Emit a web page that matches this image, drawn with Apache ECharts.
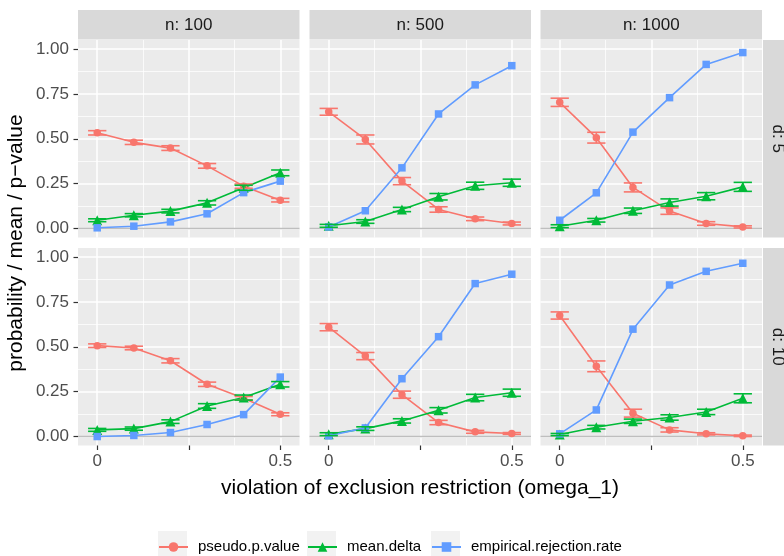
<!DOCTYPE html>
<html><head><meta charset="utf-8">
<script src="https://cdn.jsdelivr.net/npm/echarts@6/dist/echarts.min.js"></script>
<style>html,body{margin:0;padding:0;background:#fff}#c{width:784px;height:556px}</style>
</head><body><div id="c"></div>
<script>
// ---- data ----
const omega = [0, 0.1, 0.2, 0.3, 0.4, 0.5];
const nLabels = ['n: 100', 'n: 500', 'n: 1000'];
const dLabels = ['d: 5', 'd: 10'];
const seriesNames = ['pseudo.p.value', 'mean.delta', 'empirical.rejection.rate'];
const xTickValues = [0, 0.25, 0.5];
const xLabelValues = [0, 0.5];
const xMinorValues = [0.125, 0.375];
const yTickValues = [0, 0.25, 0.5, 0.75, 1];
const yMinorValues = [0.125, 0.375, 0.625, 0.875];
const xTitle = 'violation of exclusion restriction (omega_1)';
const yTitle = 'probability / mean / p\u2212value';

// d: 5
const pval_d5_n100  = [0.533, 0.480, 0.448, 0.349, 0.236, 0.158];
const delta_d5_n100 = [0.046, 0.074, 0.097, 0.143, 0.227, 0.310];
const rej_d5_n100   = [0.004, 0.013, 0.037, 0.082, 0.200, 0.264];
const pvalErr_d5_n100  = [0.012, 0.012, 0.013, 0.013, 0.012, 0.010];
const deltaErr_d5_n100 = [0.008, 0.009, 0.010, 0.012, 0.014, 0.016];

const pval_d5_n500  = [0.650, 0.496, 0.264, 0.106, 0.054, 0.028];
const delta_d5_n500 = [0.015, 0.039, 0.106, 0.177, 0.238, 0.255];
const rej_d5_n500   = [0.009, 0.099, 0.338, 0.638, 0.800, 0.907];
const pvalErr_d5_n500  = [0.019, 0.025, 0.020, 0.015, 0.010, 0.008];
const deltaErr_d5_n500 = [0.008, 0.010, 0.012, 0.018, 0.020, 0.020];

const pval_d5_n1000  = [0.703, 0.506, 0.229, 0.097, 0.028, 0.009];
const delta_d5_n1000 = [0.013, 0.046, 0.099, 0.145, 0.180, 0.232];
const rej_d5_n1000   = [0.046, 0.199, 0.537, 0.729, 0.914, 0.980];
const pvalErr_d5_n1000  = [0.023, 0.030, 0.025, 0.018, 0.010, 0.006];
const deltaErr_d5_n1000 = [0.008, 0.010, 0.015, 0.020, 0.020, 0.025];

// d: 10
const pval_d10_n100  = [0.506, 0.493, 0.422, 0.291, 0.213, 0.124];
const delta_d10_n100 = [0.037, 0.044, 0.083, 0.170, 0.217, 0.291];
const rej_d10_n100   = [0.000, 0.006, 0.022, 0.067, 0.122, 0.331];
const pvalErr_d10_n100  = [0.010, 0.010, 0.012, 0.012, 0.010, 0.008];
const deltaErr_d10_n100 = [0.008, 0.009, 0.010, 0.013, 0.014, 0.015];

const pval_d10_n500  = [0.609, 0.448, 0.233, 0.078, 0.026, 0.017];
const delta_d10_n500 = [0.013, 0.044, 0.087, 0.146, 0.217, 0.244];
const rej_d10_n500   = [0.004, 0.048, 0.322, 0.556, 0.852, 0.904];
const pvalErr_d10_n500  = [0.020, 0.020, 0.020, 0.012, 0.008, 0.005];
const deltaErr_d10_n500 = [0.008, 0.010, 0.012, 0.015, 0.018, 0.020];

const pval_d10_n1000  = [0.674, 0.391, 0.130, 0.037, 0.015, 0.004];
const delta_d10_n1000 = [0.011, 0.052, 0.085, 0.106, 0.137, 0.213];
const rej_d10_n1000   = [0.015, 0.148, 0.598, 0.844, 0.920, 0.965];
const pvalErr_d10_n1000  = [0.020, 0.030, 0.022, 0.012, 0.006, 0.004];
const deltaErr_d10_n1000 = [0.006, 0.010, 0.012, 0.015, 0.015, 0.025];

const panels = [
  {row:0, col:0, vals:[pval_d5_n100,  delta_d5_n100,  rej_d5_n100],  errs:[pvalErr_d5_n100,  deltaErr_d5_n100]},
  {row:0, col:1, vals:[pval_d5_n500,  delta_d5_n500,  rej_d5_n500],  errs:[pvalErr_d5_n500,  deltaErr_d5_n500]},
  {row:0, col:2, vals:[pval_d5_n1000, delta_d5_n1000, rej_d5_n1000], errs:[pvalErr_d5_n1000, deltaErr_d5_n1000]},
  {row:1, col:0, vals:[pval_d10_n100,  delta_d10_n100,  rej_d10_n100],  errs:[pvalErr_d10_n100,  deltaErr_d10_n100]},
  {row:1, col:1, vals:[pval_d10_n500,  delta_d10_n500,  rej_d10_n500],  errs:[pvalErr_d10_n500,  deltaErr_d10_n500]},
  {row:1, col:2, vals:[pval_d10_n1000, delta_d10_n1000, rej_d10_n1000], errs:[pvalErr_d10_n1000, deltaErr_d10_n1000]}
];

// ---- style / layout ----
const FONT = '"Liberation Sans", Arial, sans-serif';
const colors = ['#F8766D', '#00BA38', '#619CFF'];
const symbols = ['circle', 'triangle', 'rect'];
const symbolSizes = [7.5, 10, 7.5];
const colLeft = [78, 309.5, 540.5], rowTop = [40, 248], PW = 221.5, PH = 197.5;
const XMIN = -0.0525, XMAX = 0.5525, YMIN = -0.05, YMAX = 1.05;
const CAP = 0.025;

const grid = [], xAxis = [], yAxis = [], series = [], graphic = [];

panels.forEach((p, i) => {
  const showX = p.row === 1, showY = p.col === 0;
  grid.push({left: colLeft[p.col], top: rowTop[p.row], width: PW, height: PH,
    show: true, backgroundColor: '#EBEBEB', borderWidth: 0});
  xAxis.push({type: 'value', gridIndex: i, min: XMIN, max: XMAX, position: 'bottom',
    axisLine: {show: false, onZero: false},
    axisTick: {show: showX, customValues: xTickValues, length: 4.5, lineStyle: {color: '#333333', width: 1.2}},
    axisLabel: {show: showX, customValues: xLabelValues, margin: 7, color: '#4D4D4D', fontSize: 17, fontFamily: FONT,
      formatter: v => String(v)},
    splitLine: {show: true, lineStyle: {color: '#FFFFFF', width: 1.5}}});
  xAxis.push({type: 'value', gridIndex: i, min: XMIN, max: XMAX, position: 'bottom',
    axisLine: {show: false, onZero: false}, axisTick: {show: false, customValues: xMinorValues},
    axisLabel: {show: false}, splitLine: {show: true, lineStyle: {color: '#FFFFFF', width: 0.75}}});
  yAxis.push({type: 'value', gridIndex: i, min: YMIN, max: YMAX, position: 'left',
    axisLine: {show: false, onZero: false},
    axisTick: {show: showY, customValues: yTickValues, length: 4.5, lineStyle: {color: '#333333', width: 1.2}},
    axisLabel: {show: showY, customValues: yTickValues, margin: 9, color: '#4D4D4D', fontSize: 17, fontFamily: FONT,
      formatter: v => v.toFixed(2)},
    splitLine: {show: true, lineStyle: {color: '#FFFFFF', width: 1.5}}});
  yAxis.push({type: 'value', gridIndex: i, min: YMIN, max: YMAX, position: 'left',
    axisLine: {show: false, onZero: false}, axisTick: {show: false, customValues: yMinorValues},
    axisLabel: {show: false}, splitLine: {show: true, lineStyle: {color: '#FFFFFF', width: 0.75}}});

  const xi = 2 * i, yi = 2 * i;
  p.vals.forEach((vals, s) => {
    const ser = {type: 'line', name: seriesNames[s], xAxisIndex: xi, yAxisIndex: yi,
      data: omega.map((x, k) => [x, vals[k]]),
      symbol: symbols[s], symbolSize: symbolSizes[s],
      lineStyle: {color: colors[s], width: 1.6}, itemStyle: {color: colors[s]},
      z: 3};
    if (s === 0) {
      ser.markLine = {silent: true, symbol: 'none', label: {show: false},
        lineStyle: {color: '#BEBEBE', width: 1.4, type: 'solid'}, data: [{yAxis: 0}], z: 2};
    }
    series.push(ser);
  });
  p.errs.forEach((errs, s) => {
    const vals = p.vals[s];
    series.push({type: 'custom', name: 'err_' + s, xAxisIndex: xi, yAxisIndex: yi, z: 4,
      data: omega.map((x, k) => [x, vals[k] - errs[k], vals[k] + errs[k]]),
      renderItem: (params, api) => {
        const x = api.value(0), lo = api.value(1), hi = api.value(2);
        const a = api.coord([x, lo]), b = api.coord([x, hi]);
        const l1 = api.coord([x - CAP, lo]), r1 = api.coord([x + CAP, lo]);
        const l2 = api.coord([x - CAP, hi]), r2 = api.coord([x + CAP, hi]);
        const st = {stroke: colors[s], lineWidth: 1.6};
        return {type: 'group', children: [
          {type: 'line', shape: {x1: a[0], y1: a[1], x2: b[0], y2: b[1]}, style: st},
          {type: 'line', shape: {x1: l1[0], y1: l1[1], x2: r1[0], y2: r1[1]}, style: st},
          {type: 'line', shape: {x1: l2[0], y1: l2[1], x2: r2[0], y2: r2[1]}, style: st}
        ]};
      }});
  });
});

// strips
nLabels.forEach((t, c) => {
  graphic.push({type: 'rect', left: colLeft[c], top: 10, shape: {width: PW, height: 29.5}, style: {fill: '#D9D9D9'}, silent: true});
  graphic.push({type: 'text', x: colLeft[c] + PW / 2, y: 25, style: {text: t, align: 'center', verticalAlign: 'middle',
    fill: '#1A1A1A', font: '17px ' + FONT}, silent: true});
});
dLabels.forEach((t, r) => {
  graphic.push({type: 'rect', left: 763, top: rowTop[r], shape: {width: 30, height: PH}, style: {fill: '#D9D9D9'}, silent: true});
  graphic.push({type: 'text', x: 777.5, y: rowTop[r] + PH / 2, rotation: -Math.PI / 2,
    style: {text: t, align: 'center', verticalAlign: 'middle', fill: '#1A1A1A', font: '17px ' + FONT}, silent: true});
});
// axis titles
graphic.push({type: 'text', x: 16, y: 243, rotation: Math.PI / 2,
  style: {text: yTitle, align: 'center', verticalAlign: 'middle', fill: '#000', font: '21px ' + FONT}, silent: true});
graphic.push({type: 'text', x: 420, y: 488,
  style: {text: xTitle, align: 'center', verticalAlign: 'middle', fill: '#000', font: '21px ' + FONT}, silent: true});

// legend (three single-item legends with key backgrounds)
const legLeft = [158, 307, 431];
const KEY = 29;
const LEGY = 545.5;
const legend = seriesNames.map((nm, k) => ({
  data: [nm], left: legLeft[k], top: LEGY - 6, itemWidth: KEY, itemHeight: 12, padding: 0,
  selectedMode: false, textStyle: {fontSize: 15, color: '#000', fontFamily: FONT, padding: [0, 0, 0, 5]}
}));
legLeft.forEach(l => graphic.push({type: 'rect', left: l, top: LEGY - KEY / 2, shape: {width: KEY, height: KEY},
  style: {fill: '#F2F2F2'}, silent: true, z: 1}));

const chart = echarts.init(document.getElementById('c'), null, {renderer: 'canvas'});
chart.setOption({
  animation: false,
  backgroundColor: '#FFFFFF',
  textStyle: {fontFamily: FONT},
  grid, xAxis, yAxis, series, legend, graphic
});
</script></body></html>
